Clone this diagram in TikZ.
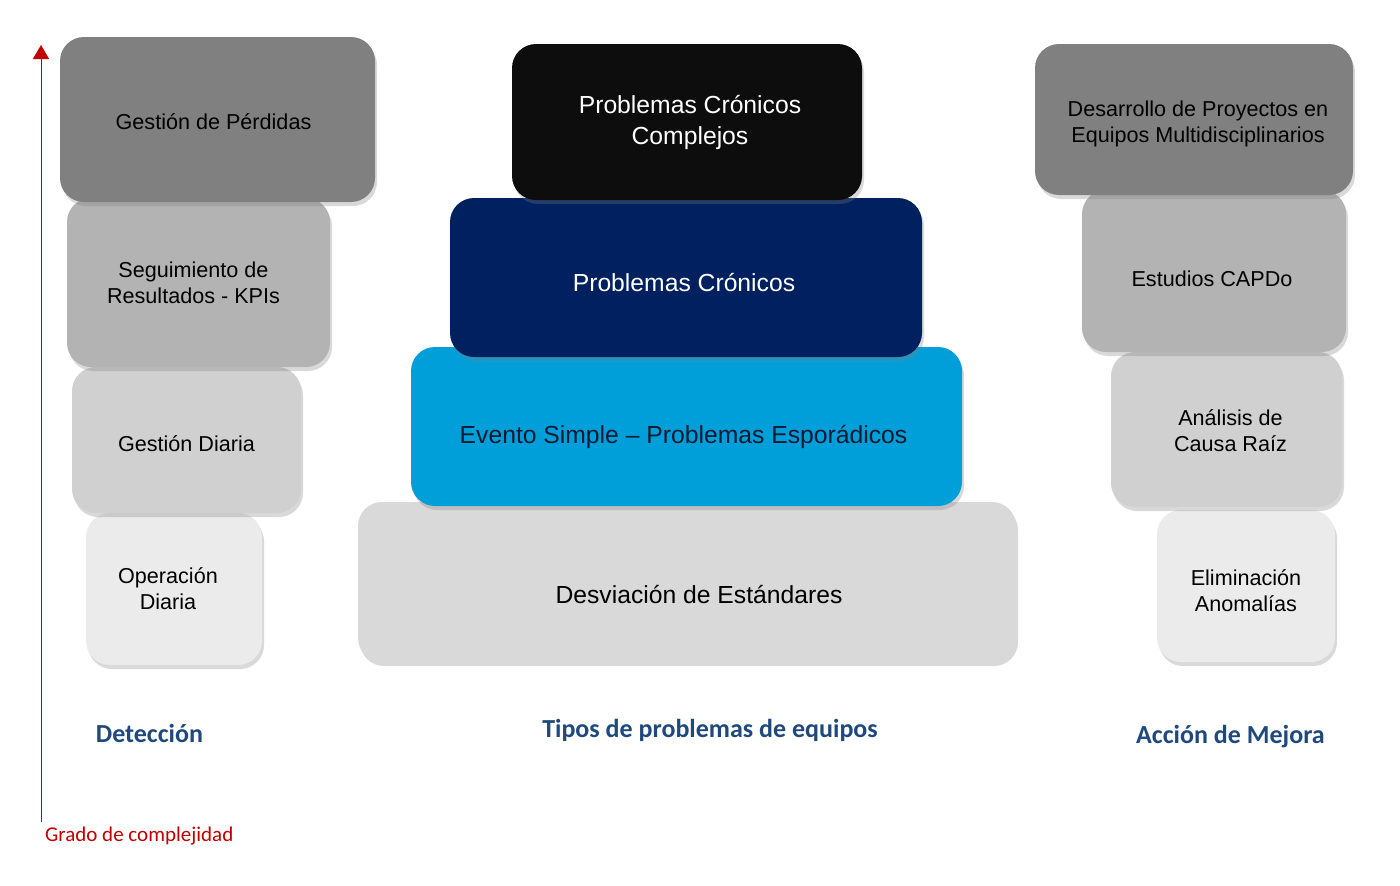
\documentclass[tikz,border=0pt]{standalone}
\usepackage{fontspec}
\setmainfont{Liberation Sans}
\newfontfamily\calibri{Carlito}
\usetikzlibrary{shadows,arrows.meta}
\definecolor{grisuno}{HTML}{808080}
\definecolor{grisdos}{HTML}{B3B3B3}
\definecolor{gristres}{HTML}{D0D0D0}
\definecolor{griscuatro}{HTML}{EBEBEB}
\definecolor{grisbase}{HTML}{D9D9D9}
\definecolor{negro}{HTML}{0D0D0D}
\definecolor{marino}{HTML}{002060}
\definecolor{celeste}{HTML}{009FDA}
\definecolor{tinta}{HTML}{0C1A30}
\definecolor{azultit}{HTML}{1F497D}
\definecolor{rojo}{HTML}{C00000}

\begin{document}
\begin{tikzpicture}[x=1pt,y=-1pt]
\tikzstyle{every node}+=[inner sep=0pt]
\tikzstyle{caja}=[rounded corners=24pt, drop shadow={opacity=0.3,shadow xshift=2pt,shadow yshift=-4pt}]
\tikzstyle{tl}=[align=center, font=\fontsize{21.6}{26}\selectfont]
\tikzstyle{tc}=[align=center, font=\fontsize{24.7}{31}\selectfont]
\tikzstyle{titulo}=[font=\calibri\bfseries\fontsize{26}{30}\selectfont, text=azultit]
\useasboundingbox (0,0) rectangle (1400,886);
% deteccion
\node[caja, fill=griscuatro, minimum width=176pt, minimum height=152pt, label={[tl,xshift=-6pt]center:Operación\\Diaria}] (operacion) at (174,589) {};
\node[caja, fill=gristres, minimum width=229pt, minimum height=146pt, label={[tl,yshift=-4pt]center:Gestión Diaria}] (diaria) at (186.5,440) {};
\node[caja, fill=grisdos, minimum width=263pt, minimum height=169pt, label={[tl,xshift=-5pt]center:Seguimiento de\\Resultados - KPIs}] (seguimiento) at (198.5,282.5) {};
\node[caja, fill=grisuno, minimum width=315pt, minimum height=165pt, label={[tl,xshift=-4pt,yshift=-2pt]center:Gestión de Pérdidas}] (perdidas) at (217.5,119.5) {};
% tipos de problemas
\node[caja, fill=grisbase, minimum width=658pt, minimum height=160pt, label={[tc,xshift=12pt,yshift=-13pt]center:Desviación de Estándares}] (desviacion) at (687,582) {};
\node[caja, fill=celeste, minimum width=551pt, minimum height=159pt, label={[tc,text=tinta,xshift=-3pt,yshift=-10pt]center:Evento Simple – Problemas Esporádicos}] (evento) at (686.5,426.5) {};
\node[caja, fill=marino, minimum width=472pt, minimum height=159pt, label={[tc,text=white,xshift=-2pt,yshift=-5pt]center:Problemas Crónicos}] (cronicos) at (686,277.5) {};
\node[caja, fill=negro, minimum width=350pt, minimum height=156pt, label={[tc,text=white,xshift=3pt]center:Problemas Crónicos\\Complejos}] (complejos) at (687,122) {};
% accion de mejora
\node[caja, fill=griscuatro, minimum width=178pt, minimum height=152pt, label={[tl,yshift=-5pt]center:Eliminación\\Anomalías}] (eliminacion) at (1246,586) {};
\node[caja, fill=gristres, minimum width=231pt, minimum height=155pt, label={[tl,xshift=4pt,yshift=-1pt]center:Análisis de\\Causa Raíz}] (analisis) at (1226.5,429.5) {};
\node[caja, fill=grisdos, minimum width=264pt, minimum height=162pt, label={[tl,xshift=-2pt,yshift=-8pt]center:Estudios CAPDo}] (capdo) at (1214,271) {};
\node[caja, fill=grisuno, minimum width=318pt, minimum height=151pt, label={[tl,xshift=4pt,yshift=-4pt]center:Desarrollo de Proyectos en\\Equipos Multidisciplinarios}] (proyectos) at (1194,119.5) {};
% titulos
\node[titulo] (tdeteccion) at (149.5,733) {Detección};
\node[titulo] (ttipos) at (710,730) {Tipos de problemas de equipos};
\node[titulo] (taccion) at (1230.5,737) {Acción de Mejora};
% eje de complejidad
\coordinate (ejeabajo) at (41,822);
\coordinate (ejearriba) at (41,45);
\draw[rojo, line width=1pt, -{Triangle[width=16pt,length=14pt]}] (ejeabajo) -- (ejearriba);
\node[anchor=west, text=rojo, font=\calibri\fontsize{21}{25}\selectfont] (grado) at (45,836) {Grado de complejidad};
\end{tikzpicture}
\end{document}
